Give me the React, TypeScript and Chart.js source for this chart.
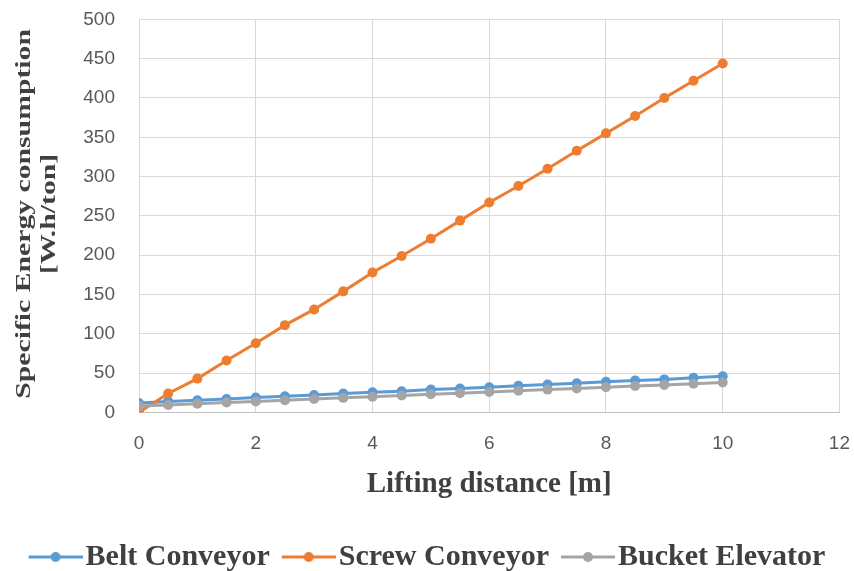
import React, { useEffect, useRef } from "react";
import { Chart, registerables } from "chart.js";

Chart.register(...registerables);

const distances = [0, 0.5, 1, 1.5, 2, 2.5, 3, 3.5, 4, 4.5, 5, 5.5, 6, 6.5, 7, 7.5, 8, 8.5, 9, 9.5, 10];
const beltConveyor = [12, 14, 15.5, 17, 19, 20.5, 22, 24, 25.5, 27, 29, 30.5, 32, 34, 35.5, 37, 39, 40.5, 42, 44, 46];
const screwConveyor = [0, 24, 43, 66, 88, 111, 131, 154, 178, 199, 221, 244, 267, 288, 310, 333, 355, 377, 400, 422, 444];
const bucketElevator = [8, 9.5, 11, 12.5, 14, 15.5, 17, 18.5, 20, 21.5, 23, 24.5, 26, 27.5, 29, 30.5, 32, 33.5, 35, 36.5, 38];
const seriesNames = ["Belt Conveyor", "Screw Conveyor", "Bucket Elevator"];
const seriesColors = ["#5B9BD5", "#ED7D31", "#A5A5A5"];
const yTitleLines = ["Specific Energy consumption", "[W.h/ton]"];
const xTitle = "Lifting distance [m]";

function makeLegendMarker(color: string): HTMLCanvasElement {
  const c = document.createElement("canvas");
  c.width = 66;
  c.height = 14;
  const ctx = c.getContext("2d")!;
  ctx.strokeStyle = color;
  ctx.lineWidth = 3;
  ctx.beginPath();
  ctx.moveTo(12, 7);
  ctx.lineTo(66, 7);
  ctx.stroke();
  ctx.fillStyle = color;
  ctx.beginPath();
  ctx.arc(39, 7, 5, 0, Math.PI * 2);
  ctx.fill();
  return c;
}

const yTitlePlugin = {
  id: "yTitle",
  afterDraw(chart: any) {
    const { ctx, chartArea } = chart;
    const cy = (chartArea.top + chartArea.bottom) / 2 - 2;
    const xs = [24, 49];
    ctx.save();
    ctx.fillStyle = "#404040";
    ctx.font = "bold 22px 'Liberation Serif'";
    ctx.textAlign = "center";
    ctx.textBaseline = "middle";
    yTitleLines.forEach((line, i) => {
      ctx.save();
      ctx.translate(xs[i], cy);
      ctx.rotate(-Math.PI / 2);
      ctx.scale(1.35, 1);
      ctx.fillText(line, 0, 0);
      ctx.restore();
    });
    ctx.restore();
  },
};

export default function App() {
  const ref = useRef<HTMLCanvasElement>(null);
  useEffect(() => {
    document.body.style.margin = "0";
    const series = [beltConveyor, screwConveyor, bucketElevator];
    const markers = seriesColors.map(makeLegendMarker);
    const chart = new Chart(ref.current!, {
      type: "line",
      data: {
        datasets: series.map((vals, i) => ({
          label: seriesNames[i],
          data: distances.map((x, j) => ({ x, y: vals[j] })),
          borderColor: seriesColors[i],
          backgroundColor: seriesColors[i],
          borderWidth: 3,
          pointRadius: 5,
          pointHoverRadius: 5,
          pointBorderWidth: 0,
          order: i === 2 ? 0 : i === 1 ? 1 : 2,
        })),
      },
      plugins: [yTitlePlugin],
      options: {
        animation: false,
        responsive: false,
        layout: { padding: { left: 0, right: 0, top: 0, bottom: -11 } },
        plugins: {
          tooltip: { enabled: false },
          legend: {
            position: "bottom",
            labels: {
              usePointStyle: true,
              pointStyleWidth: 42,
              padding: 12,
              color: "#404040",
              font: { family: "'Liberation Serif'", size: 30, weight: "bold" },
              generateLabels: (ch: any) =>
                ch.data.datasets.map((d: any, i: number) => ({
                  text: d.label,
                  fillStyle: seriesColors[i],
                  strokeStyle: seriesColors[i],
                  pointStyle: markers[i],
                  fontColor: "#404040",
                  hidden: false,
                  datasetIndex: i,
                  lineWidth: 0,
                })),
            },
          },
        },
        scales: {
          x: {
            type: "linear",
            min: 0,
            max: 12,
            ticks: { stepSize: 2, color: "#595959", font: { family: "'Liberation Sans'", size: 19 }, padding: 4 },
            grid: { color: "#D9D9D9", drawTicks: true, tickLength: 16, tickColor: "rgba(0,0,0,0)" },
            border: { color: "#BFBFBF" },
            title: {
              display: true,
              text: xTitle,
              color: "#404040",
              font: { family: "'Liberation Serif'", size: 29, weight: "bold" },
              padding: { top: 8, bottom: 28 },
            },
          },
          y: {
            min: 0,
            max: 500,
            afterFit: (scale: any) => {
              scale.width = 139;
            },
            ticks: { stepSize: 50, color: "#595959", font: { family: "'Liberation Sans'", size: 19 }, padding: 8 },
            grid: { color: "#D9D9D9", drawTicks: true, tickLength: 16, tickColor: "rgba(0,0,0,0)" },
            border: { display: false },
          },
        },
      },
    });
    return () => chart.destroy();
  }, []);
  return (
    <div style={{ width: 854, height: 571 }}>
      <canvas ref={ref} width={854} height={571} style={{ display: "block" }} />
    </div>
  );
}
